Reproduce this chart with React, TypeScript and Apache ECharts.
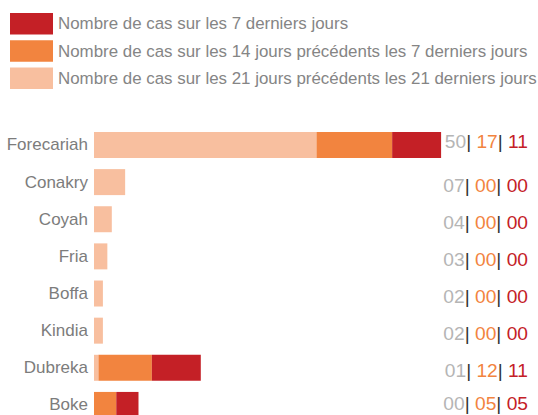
import React, { useEffect, useRef } from "react";
import * as echarts from "echarts";

const categories = ["Forecariah", "Conakry", "Coyah", "Fria", "Boffa", "Kindia", "Dubreka", "Boke"];
const cases21 = [50, 7, 4, 3, 2, 2, 1, 0];
const cases14 = [17, 0, 0, 0, 0, 0, 12, 5];
const cases7 = [11, 0, 0, 0, 0, 0, 11, 5];
const seriesNames = [
  "Nombre de cas sur les 7 derniers jours",
  "Nombre de cas sur les 14 jours précédents les 7 derniers jours",
  "Nombre de cas sur les 21 jours précédents les 21 derniers jours",
];
const colors = ["#c42026", "#f2843f", "#f8bf9f"];

const FONT = "'Liberation Sans', Arial, Helvetica, sans-serif";
const pad = (v: number) => String(v).padStart(2, "0");

const rich = {
  g: { color: "#b5b5b5", fontSize: 19.2, fontFamily: FONT },
  s: { color: "#333333", fontSize: 19.2, fontFamily: FONT },
  o: { color: "#f2843f", fontSize: 19.2, fontFamily: FONT },
  r: { color: "#c42026", fontSize: 19.2, fontFamily: FONT },
};

export default function App() {
  const ref = useRef<HTMLDivElement>(null);
  useEffect(() => {
    if (!ref.current) return;
    const chart = echarts.init(ref.current, undefined, { renderer: "svg" });
    const last = categories.length - 1;
    chart.setOption({
      animation: false,
      legend: {
        orient: "vertical",
        left: 5,
        top: 8,
        itemWidth: 43,
        itemHeight: 21.5,
        itemGap: 5.8,
        icon: "rect",
        data: [seriesNames[0], seriesNames[1], seriesNames[2]],
        textStyle: { color: "#858585", fontSize: 16.9, fontFamily: FONT },
        selectedMode: false,
      },
      grid: {
        left: 94,
        top: 126.4,
        width: 356,
        height: 297.1,
        outerBoundsMode: "none",
        containLabel: false,
      },
      xAxis: { type: "value", min: 0, max: 80, show: false },
      yAxis: [
        {
          type: "category",
          data: categories,
          inverse: true,
          position: "left",
          axisLine: { show: false },
          axisTick: { show: false },
          axisLabel: {
            color: "#7c7c7c",
            fontSize: 17,
            fontFamily: FONT,
            margin: 6,
            padding: [0, 0, 6, 0],
          },
        },
        {
          type: "category",
          data: categories.map((c, i) =>
            i === 0
              ? { value: c, textStyle: { align: "right", padding: [0, 0, 6, 0], rich } }
              : i === last
              ? { value: c, textStyle: { align: "right", padding: [0, 0, 2, 0], rich } }
              : c
          ),
          inverse: true,
          position: "right",
          axisLine: { show: false },
          axisTick: { show: false },
          axisLabel: {
            align: "right",
            margin: 78,
            padding: [6, 0, 0, 0],
            formatter: (_v: string, i: number) =>
              `{g|${pad(cases21[i])}}{s||}{o| ${pad(cases14[i])}}{s||}{r| ${pad(cases7[i])}}`,
            rich,
          },
        },
      ],
      series: [
        {
          name: seriesNames[2],
          type: "bar",
          stack: "t",
          data: cases21,
          barWidth: 26,
          itemStyle: { color: colors[2] },
        },
        {
          name: seriesNames[1],
          type: "bar",
          stack: "t",
          data: cases14,
          barWidth: 26,
          itemStyle: { color: colors[1] },
        },
        {
          name: seriesNames[0],
          type: "bar",
          stack: "t",
          data: cases7,
          barWidth: 26,
          itemStyle: { color: colors[0] },
        },
      ],
    });
    return () => chart.dispose();
  }, []);
  return (
    <div
      ref={ref}
      style={{ position: "absolute", left: 0, top: 0, width: 538, height: 415 }}
    />
  );
}
